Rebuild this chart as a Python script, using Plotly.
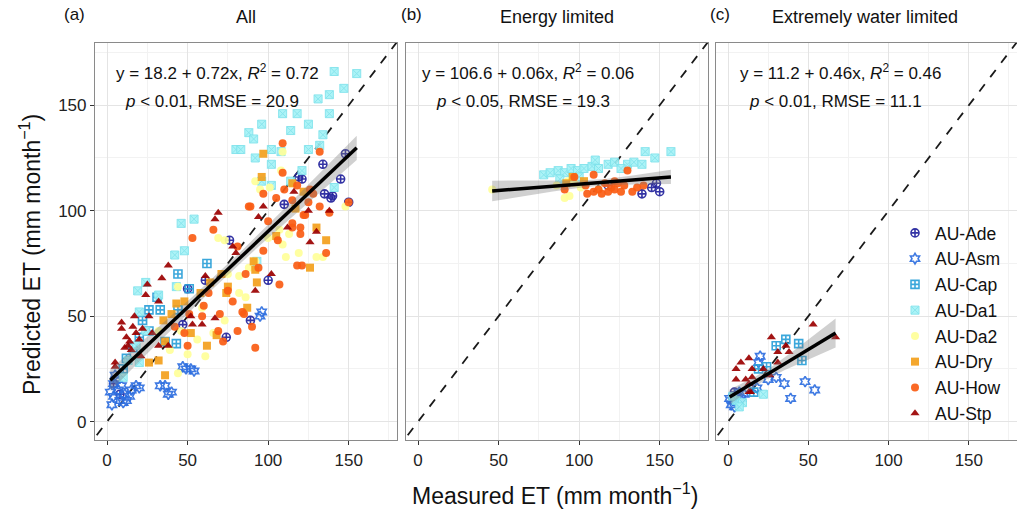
import numpy as np
import plotly.graph_objects as go

# ---------------- data ----------------
sites = ["AU-Ade", "AU-Asm", "AU-Cap", "AU-Da1", "AU-Da2", "AU-Dry", "AU-How", "AU-Stp"]
panel_titles = ["All", "Energy limited", "Extremely water limited"]
panel_tags = ["(a)", "(b)", "(c)"]
x_ticks = [0, 50, 100, 150]
y_ticks = [0, 50, 100, 150]

# Panel (a): All  -- (measured, predicted) pairs per site
all_ade = [(148,127),(134,122),(121,115),(145,115),(135,108),(140,107),(150,104),(110,103),(119,116),(139,106),
           (76,86),(100,67),(89,48),(74,40),(50,63),(47,46),(61,67),(8,13),(4,18)]
all_asm = [(49,25),(52,25),(54,24),(47,26),(36,17),(40,14),(33,17),(38,13),(18,17),(20,16),(96,52),(95,50),
           (7,15),(4,12),(8,10),(10,9),(4,18),(11,13),(15,15),(2,14),(6,20),(12,10),(3,8),(9,17),(5,22),(14,12)]
all_cap = [(62,75),(44,70),(31,59),(26,53),(33,53),(44,53),(26,43),(20,40),(51,63),(16,35),(12,30),(10,25),
           (22,48),(36,38),(43,37)]
all_da1 = [(141,166),(155,165),(147,158),(138,155),(131,153),(109,146),(118,146),(138,146),(96,141),(125,141),
           (88,137),(114,138),(91,134),(134,136),(80,129),(83,129),(102,129),(125,129),(132,131),(92,125),
           (102,122),(96,114),(102,112),(114,114),(121,119),(141,111),(46,94),(54,96),(48,81),(42,79),(19,62),
           (32,60),(93,76),(20,52),(24,43),(18,36),(13,29),(10,21),(20,28),(43,64),(108,128),(24,66)]
all_da2 = [(44,64),(69,87),(73,86),(109,84),(107,91),(113,89),(86,59),(82,69),(59,54),(56,39),(61,31),(44,23),
           (39,34),(50,32),(119,80),(130,78),(111,78),(134,78),(108,119),(109,128),(75,70),(92,76),(100,87),
           (148,102),(73,48),(46,43),(32,43),(66,42),(82,61),(88,73),(95,110),(92,114),(101,111)]
all_dry = [(97,127),(122,109),(117,101),(136,86),(126,73),(91,76),(92,72),(93,66),(74,61),(64,66),(58,61),
           (48,57),(43,56),(40,51),(35,48),(36,38),(32,29),(26,28),(36,22),(62,36),(68,41),(52,42),(71,70),
           (75,64),(87,54),(105,88),(130,92),(115,113),(96,116)]
all_how = [(109,132),(132,128),(109,118),(97,108),(88,102),(105,106),(115,105),(125,104),(132,102),(138,99),
           (122,98),(120,92),(115,92),(120,89),(106,86),(97,81),(94,73),(107,65),(118,74),(121,74),(136,80),
           (66,91),(81,83),(86,70),(75,62),(70,51),(84,52),(85,51),(81,43),(72,38),(69,43),(92,35),(90,45),
           (59,50),(63,61),(51,51),(48,42),(50,36),(42,45),(53,87),(89,102),(115,94),(123,98),(150,104),
           (128,108),(110,110),(100,95),(60,55),(78,57),(118,112),(126,110)]
all_stp = [(69,99),(67,96),(97,102),(94,97),(116,109),(138,100),(130,90),(126,85),(80,80),(78,83),(102,70),
           (92,62),(61,69),(52,50),(59,46),(67,49),(38,74),(34,68),(25,65),(24,60),(32,57),(26,50),(17,50),
           (9,47),(16,45),(9,44),(20,39),(13,36),(11,35),(15,34),(5,28),(5,26),(32,36),(38,36),(21,31),(28,42),
           (12,40),(18,42),(14,38),(22,44),(125,100),(112,92),(53,46)]

# Panel (b): Energy limited
en_ade = [(139,108),(145,111),(150,109),(148,113),(118,112)]
en_asm = []
en_cap = []
en_da1 = [(78,117),(82,118),(87,119),(91,118),(95,120),(99,119),(103,120),(108,121),(112,120),(118,122),
          (122,123),(130,122),(134,123),(139,122),(141,128),(147,125),(157,128),(126,120),(110,124),(100,116),(88,115)]
en_da2 = [(91,106),(94,107),(97,113),(101,111),(112,110),(93,114),(46,110),(86,112)]
en_dry = [(96,116),(92,113),(103,114)]
en_how = [(91,110),(97,116),(109,117),(105,108),(109,109),(112,110),(116,113),(120,111),(122,110),(124,113),
          (128,112),(130,119),(133,109),(136,111),(126,109),(118,109),(114,108),(122,114),(140,112),(104,112)]
en_stp = []

# Panel (c): Extremely water limited
ex_ade = [(4,14)]
ex_asm = [(20,31),(19,28),(25,20),(30,21),(35,18),(48,19),(54,15),(39,11),(18,16),(3,10),(2,8),(5,12),(4,7),
          (6,9),(8,11),(10,13),(1,11),(7,14)]
ex_cap = [(36,39),(44,37),(30,36),(46,29),(16,14),(24,26),(19,25)]
ex_da1 = [(5,10),(9,9),(22,13),(3,12),(7,7)]
ex_da2 = []
ex_dry = []
ex_how = []
ex_stp = [(53,46),(27,40),(36,36),(31,33),(38,33),(13,30),(8,28),(5,25),(15,25),(5,20),(11,20),(15,21),(13,18),
          (26,22),(22,25),(31,28),(14,14),(13,14),(67,40)]

# regression results shown in each panel: intercept, slope, R2, p, RMSE
fit_intercepts = [18.2, 106.6, 11.2]
fit_slopes = [0.72, 0.06, 0.46]
fit_r2 = ["0.72", "0.06", "0.46"]
fit_p = ["0.01", "0.05", "0.01"]
fit_rmse = ["20.9", "19.3", "11.1"]

panel_data = [
    [all_ade, all_asm, all_cap, all_da1, all_da2, all_dry, all_how, all_stp],
    [en_ade, en_asm, en_cap, en_da1, en_da2, en_dry, en_how, en_stp],
    [ex_ade, ex_asm, ex_cap, ex_da1, ex_da2, ex_dry, ex_how, ex_stp],
]

# ---------------- style ----------------
colors = ["#22229c", "#2f6fe0", "#2a9fd8", "#a6f3f7", "#ffff99", "#f3a01c", "#fa5c14", "#9b0000"]
line_colors = ["#22229c", "#2f6fe0", "#2a9fd8", "#7fe3ec", "#ffff99", "#f3a01c", "#fa5c14", "#9b0000"]
symbols = ["circle-cross-open", "hexagram-open", "square-cross-open", "square-x",
           "circle", "square", "circle", "triangle-up"]
line_widths = [1.6, 1.6, 1.6, 1.0, 0, 0, 0, 0]
NARROW = "Liberation Sans Narrow, Arial Narrow, Liberation Sans, Arial, sans-serif"
REG = "Liberation Sans, Arial, sans-serif"
W, H = 1017, 517

x_dom = [[95 / W, 397 / W], [406 / W, 708 / W], [716 / W, 1.0]]
y_dom = [1 - 440 / H, 1 - 43 / H]
x_range = [-7.5, 180]
y_range = [-8.7, 179.5]

fig = go.Figure()

for p in range(3):
    xa = "x" if p == 0 else f"x{p+1}"
    ya = "y" if p == 0 else f"y{p+1}"
    # 1:1 reference line
    fig.add_trace(go.Scatter(x=[-20, 200], y=[-20, 200], mode="lines", xaxis=xa, yaxis=ya,
                             line=dict(color="#1a1a1a", width=1.8, dash="dash"),
                             showlegend=False, hoverinfo="skip"))
    # site points
    for s, site in enumerate(sites):
        pts = panel_data[p][s]
        xs = [q[0] for q in pts]
        ys = [q[1] for q in pts]
        fig.add_trace(go.Scatter(
            x=xs, y=ys, mode="markers", xaxis=xa, yaxis=ya, name=site,
            legendgroup=site, showlegend=(p == 0),
            marker=dict(symbol=symbols[s], size=8, color=colors[s], opacity=0.92,
                        line=dict(width=line_widths[s], color=line_colors[s])),
        ))
    # regression line + confidence band computed from the panel's points
    allpts = [q for lst in panel_data[p] for q in lst]
    ax = np.array([q[0] for q in allpts], float)
    ay = np.array([q[1] for q in allpts], float)
    a, b = fit_intercepts[p], fit_slopes[p]
    n = len(ax)
    resid = ay - (a + b * ax)
    s_err = np.sqrt(np.sum(resid ** 2) / (n - 2))
    xbar = ax.mean()
    sxx = np.sum((ax - xbar) ** 2)
    xg = np.linspace(ax.min(), ax.max(), 60)
    yg = a + b * xg
    half = 1.96 * s_err * np.sqrt(1.0 / n + (xg - xbar) ** 2 / sxx)
    fig.add_trace(go.Scatter(x=np.concatenate([xg, xg[::-1]]),
                             y=np.concatenate([yg + half, (yg - half)[::-1]]),
                             fill="toself", fillcolor="rgba(120,120,120,0.35)",
                             line=dict(width=0), mode="lines", xaxis=xa, yaxis=ya,
                             showlegend=False, hoverinfo="skip"))
    fig.add_trace(go.Scatter(x=xg, y=yg, mode="lines", xaxis=xa, yaxis=ya,
                             line=dict(color="black", width=3.5),
                             showlegend=False, hoverinfo="skip"))

axis_common = dict(range=x_range, tickvals=x_ticks, ticks="outside", ticklen=4, tickcolor="#333333",
                   showline=True, mirror=True, linecolor="#8a8a8a", linewidth=1.2,
                   showgrid=True, gridcolor="#e4e4e4", gridwidth=1, zeroline=False,
                   minor=dict(dtick=25, tick0=0, showgrid=True, gridcolor="#f2f2f2", ticks=""),
                   tickfont=dict(family=NARROW, size=17, color="#222222"))

layout = dict(width=W, height=H, margin=dict(l=0, r=0, t=0, b=0),
              plot_bgcolor="white", paper_bgcolor="white", showlegend=True)
for p in range(3):
    kx = "xaxis" if p == 0 else f"xaxis{p+1}"
    ky = "yaxis" if p == 0 else f"yaxis{p+1}"
    ya = "y" if p == 0 else f"y{p+1}"
    xa = "x" if p == 0 else f"x{p+1}"
    layout[kx] = dict(axis_common, domain=x_dom[p], anchor=ya)
    yax = dict(axis_common, range=y_range, tickvals=y_ticks, domain=y_dom, anchor=xa)
    if p > 0:
        yax["showticklabels"] = False
        yax["ticks"] = ""
    layout[ky] = yax

layout["legend"] = dict(x=895 / W, y=1 - 215 / H, xanchor="left", yanchor="top",
                        bgcolor="rgba(255,255,255,0)", font=dict(family=NARROW, size=17.5, color="#111111"),
                        tracegroupgap=0, itemsizing="trace")
fig.update_layout(**layout)

# titles, tags, stats annotations
centers = [(x_dom[p][0] + x_dom[p][1]) / 2 for p in range(3)]
tag_x = [62 / W, 399 / W, 708 / W]
for p in range(3):
    fig.add_annotation(text=panel_titles[p], xref="paper", yref="paper", x=centers[p] if p < 2 else 865 / W,
                       y=1 - 17 / H, showarrow=False, xanchor="center", yanchor="middle",
                       font=dict(family=NARROW, size=18, color="#111111"))
    fig.add_annotation(text=panel_tags[p], xref="paper", yref="paper", x=tag_x[p], y=1 - 15 / H,
                       showarrow=False, xanchor="left", yanchor="middle",
                       font=dict(family=NARROW, size=17, color="#111111"))
    cx = [217, 528, 840][p] / W
    fig.add_annotation(text=f"y = {fit_intercepts[p]} + {fit_slopes[p]:.2f}x, <i>R</i><sup>2</sup> = {fit_r2[p]}",
                       xref="paper", yref="paper", x=cx, y=1 - 72 / H, showarrow=False,
                       xanchor="center", yanchor="middle",
                       font=dict(family=NARROW, size=17, color="#111111"))
    fig.add_annotation(text=f"<i>p</i> &lt; {fit_p[p]}, RMSE = {fit_rmse[p]}",
                       xref="paper", yref="paper", x=cx - 5 / W, y=1 - 101 / H, showarrow=False,
                       xanchor="center", yanchor="middle",
                       font=dict(family=NARROW, size=17, color="#111111"))

fig.add_annotation(text="Predicted ET (mm month<sup>−1</sup>)", xref="paper", yref="paper",
                   x=30 / W, y=1 - 255 / H, textangle=-90, showarrow=False,
                   xanchor="center", yanchor="middle", font=dict(family=REG, size=23, color="#111111"))
fig.add_annotation(text="Measured ET (mm month<sup>−1</sup>)", xref="paper", yref="paper",
                   x=555 / W, y=1 - 494 / H, showarrow=False,
                   xanchor="center", yanchor="middle", font=dict(family=NARROW, size=23, color="#111111"))

fig.write_html("out.html")
